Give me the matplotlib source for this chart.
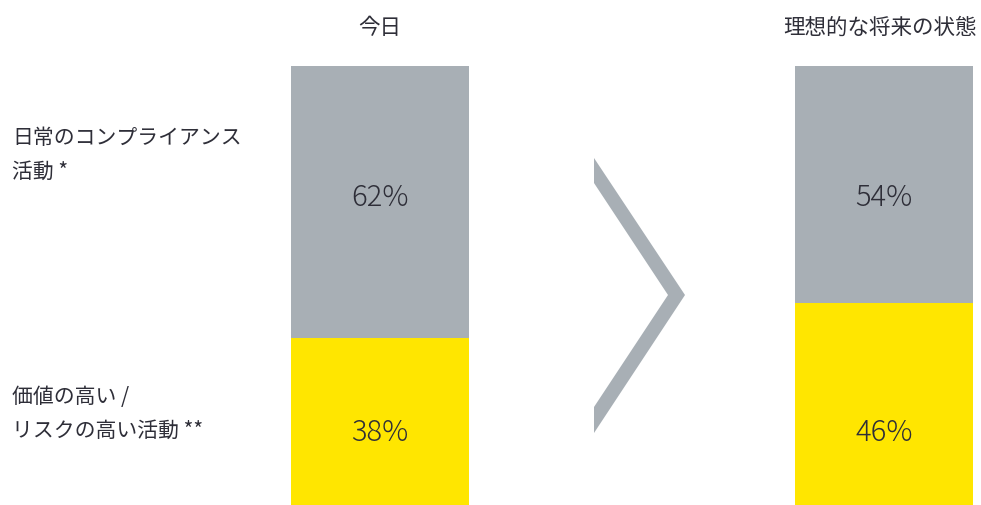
import matplotlib
matplotlib.use("Agg")
import matplotlib.pyplot as plt
from matplotlib.patches import Polygon

plt.rcParams['font.family'] = ['Noto Sans CJK JP', 'DejaVu Sans']

# data
states = ["今日", "理想的な将来の状態"]
routine = [62, 54]      # 日常のコンプライアンス活動
high_value = [38, 46]   # 価値の高い / リスクの高い活動
row_labels = ["日常のコンプライアンス\n活動 *", "価値の高い /\nリスクの高い活動 **"]

GRAY = "#A8AFB5"
YELLOW = "#FFE600"
TEXT = "#2E2E38"

W, H = 981, 505
fig = plt.figure(figsize=(W / 100, H / 100), dpi=100)

# bars axes: covers the area from the bar tops (y=66px) to the bottom
ax = fig.add_axes([0, 0, 1, (H - 66) / H])
x = [0, 1]
ax.bar(x, high_value, width=0.353, color=YELLOW, linewidth=0)
ax.bar(x, routine, width=0.353, bottom=high_value, color=GRAY, linewidth=0)
ax.set_xlim(-380 / 504, 1 + 97 / 504)
ax.set_ylim(0, 100)
ax.axis("off")

for xi, r, h in zip(x, routine, high_value):
    ax.text(xi, 70, f"{r}%", ha="center", va="center", fontsize=21,
            color=TEXT, fontweight="light")
    ax.text(xi, 16.4, f"{h}%", ha="center", va="center", fontsize=21,
            color=TEXT, fontweight="light")

# overlay in pixel coordinates for titles, row labels and the chevron
ov = fig.add_axes([0, 0, 1, 1])
ov.set_xlim(0, W)
ov.set_ylim(H, 0)
ov.axis("off")
ov.patch.set_alpha(0)

chevron = [(594, 158), (685, 295), (594, 433), (594, 407), (668, 295), (594, 183)]
ov.add_patch(Polygon(chevron, closed=True, color=GRAY, linewidth=0))

for cx, t in zip([380, 880], states):
    ov.text(cx, 28, t, ha="center", va="center", fontsize=15.5, color=TEXT)

for ly, t in zip([155, 414], row_labels):
    ov.text(12, ly, t, ha="left", va="center", fontsize=15, color=TEXT,
            linespacing=1.7)

fig.savefig("out.png", dpi=100)
